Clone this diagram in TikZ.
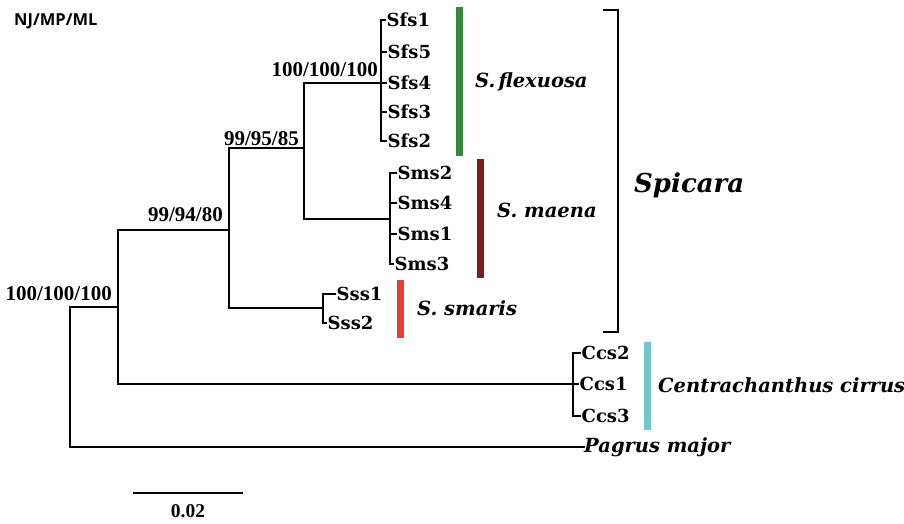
\documentclass[tikz,border=0pt]{standalone}
\usepackage{fontspec}
\setmainfont{DejaVu Serif}
\newfontfamily\bsfont{Liberation Serif}
\newfontfamily\sansfnt{Open Sans}
\definecolor{cgreen}{RGB}{52,135,60}
\definecolor{cbrown}{RGB}{120,32,32}
\definecolor{cred}{RGB}{232,62,52}
\definecolor{ccyan}{RGB}{112,198,204}
\begin{document}
\begin{tikzpicture}[x=1pt,y=-1pt,
  br/.style={line width=2pt,line cap=rect},
  leaf/.style={anchor=west,inner sep=1.5pt,font=\fontsize{18}{21}\selectfont\bfseries},
  sp/.style={anchor=west,inner sep=0pt,font=\fontsize{19.5}{23}\selectfont\bfseries\itshape},
  bs/.style={anchor=south east,inner sep=0pt,font=\bsfont\fontsize{21}{24}\selectfont\bfseries},
  cbar/.style={line width=7pt}]
\useasboundingbox (0,0) rectangle (904,523);
% internal nodes
\coordinate (R) at (70,377);
\coordinate (N2) at (118,307);
\coordinate (N3) at (229,230);
\coordinate (N4) at (304,148);
\coordinate (Sf) at (381,83);
\coordinate (Sm) at (390,219);
\coordinate (Ss) at (323,308);
\coordinate (C) at (573,384);
% leaves
\node[leaf] (sfs1) at (385,20) {Sfs1};
\node[leaf] (sfs5) at (386,52) {Sfs5};
\node[leaf] (sfs4) at (386,83) {Sfs4};
\node[leaf] (sfs3) at (386,112) {Sfs3};
\node[leaf] (sfs2) at (386,141) {Sfs2};
\node[leaf] (sms2) at (396,173) {Sms2};
\node[leaf] (sms4) at (396,203) {Sms4};
\node[leaf] (sms1) at (396,234) {Sms1};
\node[leaf] (sms3) at (393,264) {Sms3};
\node[leaf] (sss1) at (335,294) {Sss1};
\node[leaf] (sss2) at (326,323) {Sss2};
\node[leaf] (ccs2) at (580,353) {Ccs2};
\node[leaf] (ccs1) at (578,384) {Ccs1};
\node[leaf] (ccs3) at (580,416) {Ccs3};
\node[sp] (pag) at (584,447) {Pagrus major};
% branches
\draw[br] (R) |- (N2);
\draw[br] (R) |- (pag.west);
\draw[br] (N2) |- (N3);
\draw[br] (N2) |- (C);
\draw[br] (N3) |- (N4);
\draw[br] (N3) |- (Ss);
\draw[br] (N4) |- (Sf);
\draw[br] (N4) |- (Sm);
\foreach \l in {sfs1,sfs5,sfs4,sfs3,sfs2} \draw[br] (Sf) |- (\l.west);
\foreach \l in {sms2,sms4,sms1,sms3} \draw[br] (Sm) |- (\l.west);
\foreach \l in {sss1,sss2} \draw[br] (Ss) |- (\l.west);
\foreach \l in {ccs2,ccs1,ccs3} \draw[br] (C) |- (\l.west);
% bootstrap
\node[bs] (b1) at (112,301) {100/100/100};
\node[bs] (b2) at (223,222) {99/94/80};
\node[bs] (b3) at (299,146) {99/95/85};
\node[bs] (b4) at (378,77) {100/100/100};
% colour bars
\coordinate (gt) at (459,7); \coordinate (gb) at (459,156);
\draw[cbar,cgreen] (gt) -- (gb);
\coordinate (mt) at (480,159); \coordinate (mb) at (480,278);
\draw[cbar,cbrown] (mt) -- (mb);
\coordinate (rt) at (400,280); \coordinate (rb) at (400,338);
\draw[cbar,cred] (rt) -- (rb);
\coordinate (ct) at (647,342); \coordinate (cb) at (647,430);
\draw[cbar,ccyan] (ct) -- (cb);
% species
\node[sp] (sflex) at (475,82) {S.\,flexuosa};
\node[sp] (smae) at (497,210) {S. maena};
\node[sp] (ssma) at (417,308) {S. smaris};
\node[sp] (ccir) at (658,385) {Centrachanthus cirrus};
% Spicara bracket
\coordinate (k1) at (603,10); \coordinate (k2) at (618,10);
\coordinate (k3) at (618,332); \coordinate (k4) at (603,332);
\draw[br,line cap=butt] (k1) -- (k2) -- (k3) -- (k4);
\node[anchor=west,inner sep=0pt,font=\fontsize{26}{30}\selectfont\bfseries\itshape] (spic) at (634,185) {Spicara};
% label and scale
\node[anchor=west,inner sep=0pt,font=\sansfnt\fontsize{16.5}{19}\selectfont\bfseries] (nj) at (14,21) {NJ/MP/ML};
\coordinate (s1) at (133,493); \coordinate (s2) at (243,493);
\draw[br,line cap=butt] (s1) -- (s2);
\node[inner sep=0pt,font=\bsfont\fontsize{19.5}{22}\selectfont\bfseries] (sl) at (188,511) {0.02};
\end{tikzpicture}
\end{document}
